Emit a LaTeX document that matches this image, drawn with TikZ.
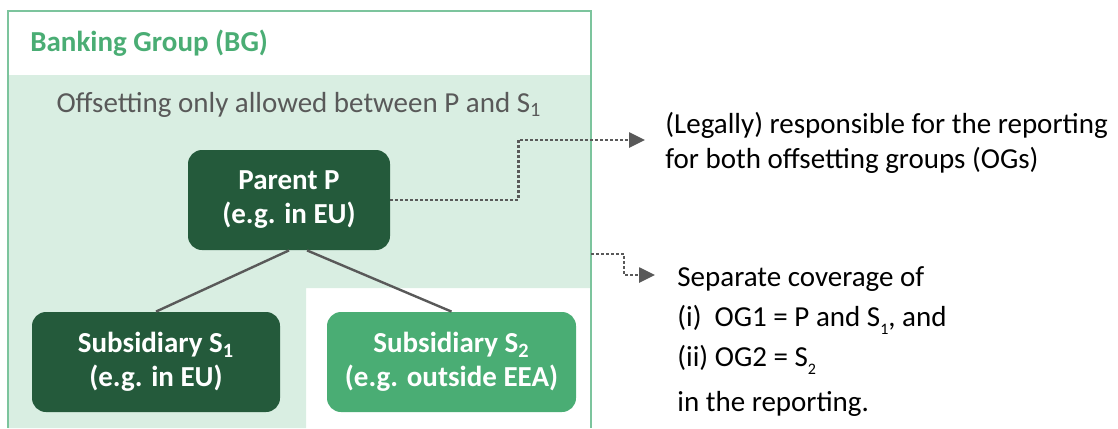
\documentclass[tikz,border=0pt]{standalone}
\usepackage{fontspec}
\setmainfont{Carlito}
\usetikzlibrary{arrows.meta}
\definecolor{grpline}{HTML}{7CC49D}
\definecolor{grpfill}{HTML}{D9EEE2}
\definecolor{darkgreen}{HTML}{245A3B}
\definecolor{midgreen}{HTML}{4AAD74}
\definecolor{greytxt}{HTML}{595959}

\newcommand{\lowsub}[1]{\raisebox{-0.6ex}{\footnotesize #1}}

\begin{document}
\begin{tikzpicture}[x=0.5pt, y=-0.5pt,
        every node/.style={font=\fontsize{14.5}{17.5}\selectfont},
        entity/.style={rounded corners=7pt, inner sep=0pt, align=center,
            text=white, font=\fontsize{14.5}{17}\selectfont\bfseries,
            minimum height=50pt},
        tie/.style={draw=greytxt, line width=1.2pt},
        link/.style={draw=greytxt, line width=1.3pt, dash pattern=on 1.3pt off 1.2pt,
            -{Triangle[length=8pt,width=7.5pt]}},
        note/.style={align=left, inner ysep=0pt}]
    \useasboundingbox (0,0) rectangle (1118,428);

    % Gruppo bancario: fondo e cornice
    \fill[grpfill] (8,75) -- (591,75) -- (591,288) -- (306,288) -- (306,428) -- (8,428) -- cycle;
    \draw[grpline, line width=1pt] (8,428) |- (591,11) -- (591,428);
    \node[anchor=west, inner sep=0pt, text=midgreen, font=\fontsize{14.5}{17}\selectfont\bfseries] (bg) at (30,43) {Banking Group (BG)};
    \node[text=greytxt] (rule) at (299,105) {Offsetting only allowed between P and S\textsubscript{1}};

    % Entita del gruppo
    \node[entity, fill=darkgreen, minimum width=101pt] (P) at (289,200) {Parent P\\(e.g. in EU)};
    \node[entity, fill=darkgreen, minimum width=124pt] (S1) at (156,362) {Subsidiary S\textsubscript{1}\\(e.g. in EU)};
    \node[entity, fill=midgreen, minimum width=124.5pt] (S2) at (451.5,362) {Subsidiary S\textsubscript{2}\\(e.g. outside EEA)};

    \draw[tie] (P.south) -- (S1.north);
    \draw[tie] ([xshift=9pt]P.south) -- (S2.north);

    % Note a destra
    \node[note, anchor=west, inner xsep=10pt] (resp) at (645,143)
        {(Legally) responsible for the reporting\\for both offsetting groups (OGs)};
    \node[note, anchor=north west, inner xsep=11pt,
          font=\fontsize{14.5}{18.5}\selectfont] (cover) at (655,266)
        {Separate coverage of\\[1.5pt]
         (i)\ \ OG1 = P and S\lowsub{1}, and\\[1.5pt]
         (ii) OG2 = S\lowsub{2}\\[4pt]
         in the reporting.};

    % Collegamenti tratteggiati
    \coordinate (bgedge) at (591,254);
    \draw[link] (P.east) -- ++(128,0) |- ([yshift=1.5pt]resp.west);
    \draw[link] (bgedge) -- ++(33,0) |- ([yshift=-4.5pt]cover.north west);
\end{tikzpicture}
\end{document}
